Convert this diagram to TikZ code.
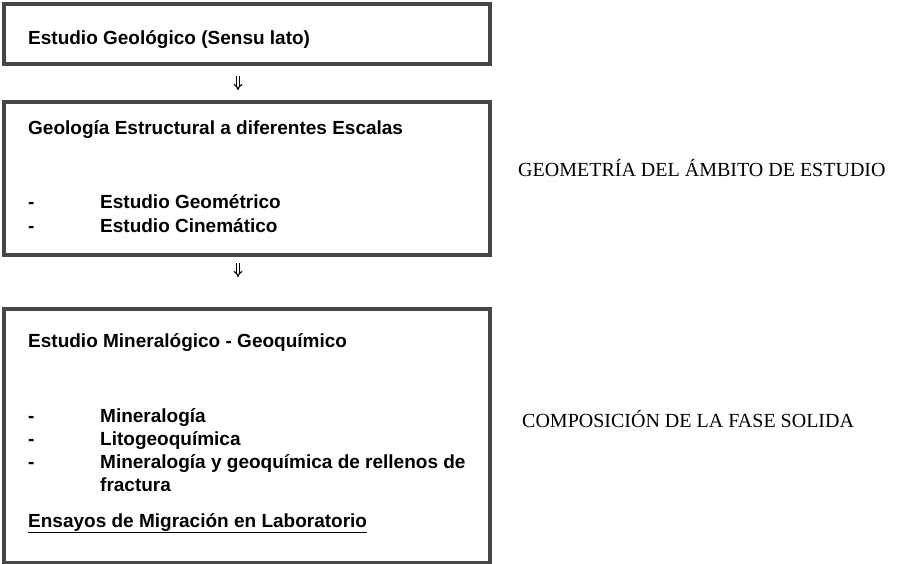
\documentclass[tikz,border=0pt]{standalone}
\usepackage{fontspec}
\setmainfont{Liberation Sans}
\newfontfamily\serifface{Liberation Serif}
\usetikzlibrary{arrows.meta}
\begin{document}
\begin{tikzpicture}[x=1pt,y=-1pt,
  box/.style={draw=black!72, line width=4pt, rectangle, inner sep=0pt, anchor=north west, minimum width=486pt},
  txt/.style={anchor=base west, inner sep=0pt, font=\fontsize{19}{23}\selectfont\bfseries},
  lbl/.style={anchor=base west, inner sep=0pt, font=\serifface\fontsize{20}{24}\selectfont},
  flow/.style={double, double distance=1.8pt, line width=1.1pt, -{Implies[length=4pt]}}]
\useasboundingbox (0,0) rectangle (901,564);
\node[box, minimum height=60pt] (b1) at (2,2) {};
\node[box, minimum height=153pt] (b2) at (2,100) {};
\node[box, minimum height=254pt] (b3) at (2,307) {};
\coordinate (ax) at (238,0);
\draw[flow, shorten <=10pt, shorten >=10pt] (b1.south -| ax) -- (b2.north -| ax);
\draw[flow, shorten <=6pt, shorten >=30pt] (b2.south -| ax) -- (b3.north -| ax);
\node[txt] (t1) at (28,45) {Estudio Geológico (Sensu lato)};
\node[txt] (t2) at (28,135) {Geología Estructural a diferentes Escalas};
\node[txt] (d21) at (28,208) {-};
\node[txt] (i21) at (100,208) {Estudio Geométrico};
\node[txt] (d22) at (28,232) {-};
\node[txt] (i22) at (100,232) {Estudio Cinemático};
\node[txt] (t3) at (28,347) {Estudio Mineralógico - Geoquímico};
\node[txt] (d31) at (28,422) {-};
\node[txt] (i31) at (100,422) {Mineralogía};
\node[txt] (d32) at (28,445) {-};
\node[txt] (i32) at (100,445) {Litogeoquímica};
\node[txt] (d33) at (28,468) {-};
\node[txt] (i33) at (100,468) {Mineralogía y geoquímica de rellenos de};
\node[txt] (i34) at (100,491) {fractura};
\node[txt] (t4) at (28,527) {\underline{Ensayos de Migración en Laboratorio}};
\node[lbl] (g) at (518,176) {GEOMETRÍA DEL ÁMBITO DE ESTUDIO};
\node[lbl] (c) at (522,427) {COMPOSICIÓN DE LA FASE SOLIDA};
\end{tikzpicture}
\end{document}
